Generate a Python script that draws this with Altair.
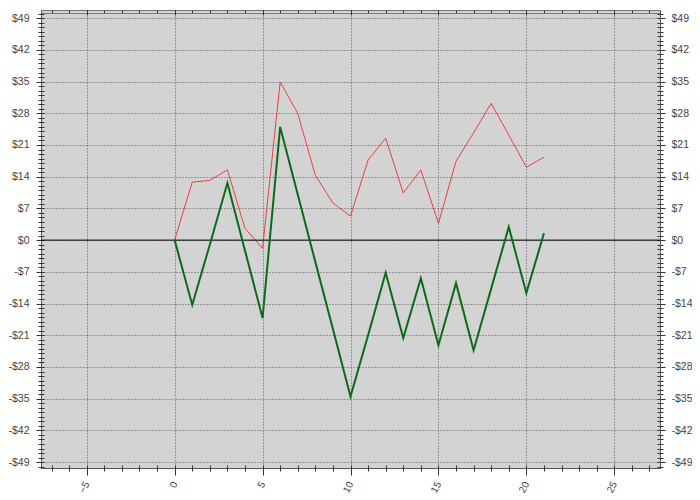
import altair as alt
import pandas as pd

xs = list(range(22))
red = [0, 12.8, 13.2, 15.5, 2.6, -1.8, 34.9, 28.0, 14.3, 8.2, 5.3, 17.7, 22.5,
       10.4, 15.5, 3.7, 17.4, 23.7, 30.2, 23.2, 16.1, 18.3]
green = [0, -14.3, -1.0, 12.6, -2.3, -17.2, 25.0, 10.1, -4.8, -19.6, -34.5, -21.0,
         -7.2, -21.6, -8.4, -23.2, -9.5, -24.3, -10.7, 2.9, -11.7, 1.5]

x_major = [-5, 0, 5, 10, 15, 20, 25]
x_minor = list(range(-7, 28))
y_major = list(range(-49, 50, 7))
y_minor = list(range(-50, 51))

df = pd.DataFrame({"x": xs, "red": red, "green": green})
zero_df = pd.DataFrame({"z": [0]})

FONT = "Liberation Sans"
xscale = alt.Scale(domain=[-7.6, 27.6], nice=False, zero=False)
yscale = alt.Scale(domain=[-50.3, 50.8], nice=False, zero=False)
ylab = "datum.value < 0 ? '-$' + abs(datum.value) : '$' + datum.value"

common = dict(labelFont=FONT, labelFontSize=10.5, labelColor="#444",
              tickColor="#333", domainColor="#555", title=None)

x_bottom = alt.Axis(orient="bottom", values=x_major, labelAngle=-62, labelAlign="right",
                    labelBaseline="middle", labelPadding=7, tickSize=7, grid=True,
                    gridColor="#555", gridDash=[1, 2], labelFont=FONT, labelFontSize=10,
                    labelColor="#444", tickColor="#333", domainColor="#555", title=None)
y_left = alt.Axis(orient="left", values=y_major, labelExpr=ylab, tickSize=5,
                  labelPadding=7, grid=True, gridColor="#555", gridDash=[1, 2], **common)
x_top = alt.Axis(orient="top", values=x_major, labels=False, tickSize=5, grid=False,
                 offset=-5, domain=False, **common)
y_right = alt.Axis(orient="right", values=y_major, labelExpr=ylab, tickSize=5,
                   labelPadding=6, grid=False, **common)
minor = dict(labels=False, grid=False, domain=False, tickSize=6, offset=-3,
             tickColor="#333", title=None)
x_bottom_minor = alt.Axis(orient="bottom", values=x_minor, **minor)
x_top_minor = alt.Axis(orient="top", values=x_minor, labels=False, grid=False, domain=True,
                       domainColor="#777", tickSize=3, offset=-3, tickColor="#333", title=None)
y_left_minor = alt.Axis(orient="left", values=y_minor, **minor)
y_right_minor = alt.Axis(orient="right", values=y_minor, **minor)

base = alt.Chart(df)

red_line = base.mark_line(color="#e8413f", strokeWidth=1).encode(
    x=alt.X("x:Q", scale=xscale, axis=x_bottom),
    y=alt.Y("red:Q", scale=yscale, axis=y_left),
)
green_line = base.mark_line(color="#0b6b16", strokeWidth=2).encode(
    x=alt.X("x:Q", scale=xscale, axis=x_top),
    y=alt.Y("green:Q", scale=yscale, axis=y_right),
)
minor_a = base.mark_point(opacity=0).encode(
    x=alt.X("x:Q", scale=xscale, axis=x_bottom_minor),
    y=alt.Y("red:Q", scale=yscale, axis=y_left_minor),
)
minor_b = base.mark_point(opacity=0).encode(
    x=alt.X("x:Q", scale=xscale, axis=x_top_minor),
    y=alt.Y("green:Q", scale=yscale, axis=y_right_minor),
)
zero_rule = alt.Chart(zero_df).mark_rule(color="#000", strokeWidth=1).encode(
    y=alt.Y("z:Q", scale=yscale, axis=None),
)

chart = alt.layer(red_line, minor_a, minor_b, zero_rule, green_line).resolve_axis(
    x="independent", y="independent"
).properties(
    width=619, height=458,
    autosize=alt.AutoSizeParams(type="none"),
    padding={"left": 33, "top": 2, "right": 32, "bottom": 32},
    background="white",
).configure_view(fill="#d3d3d3", stroke="#777")

chart.save("out.html", embed_options={"renderer": "svg", "actions": False})
